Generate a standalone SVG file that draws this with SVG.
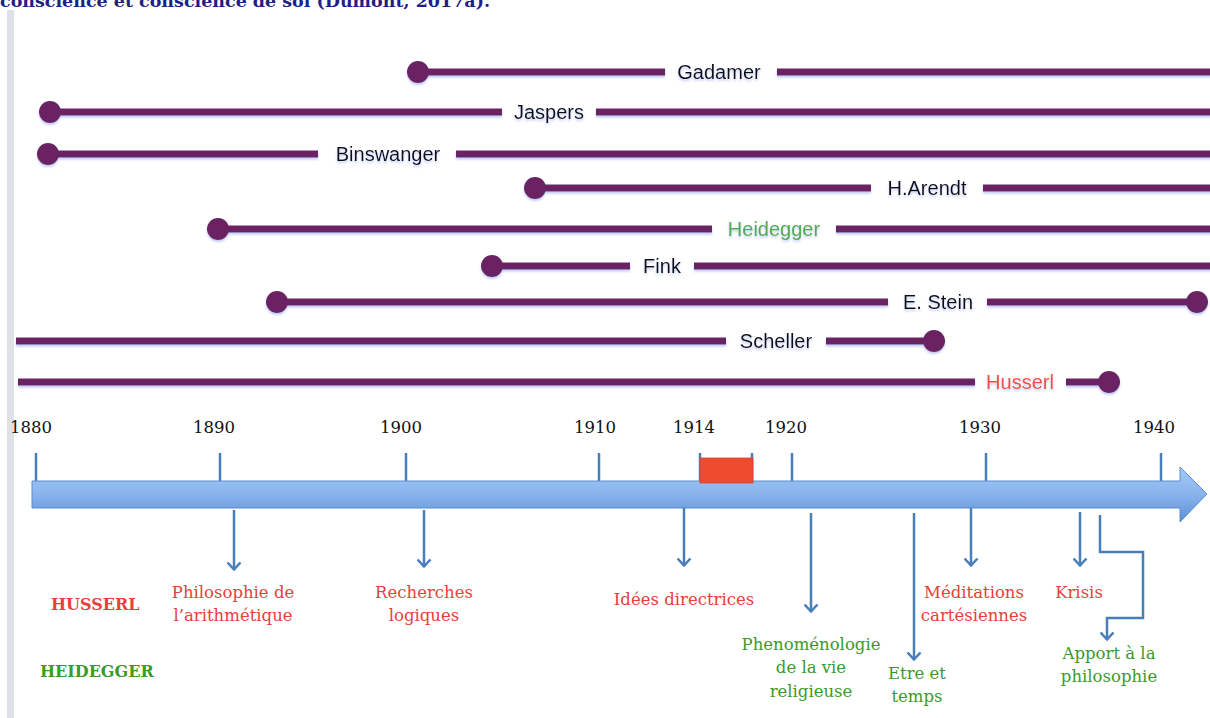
<svg xmlns="http://www.w3.org/2000/svg" width="1210" height="718" viewBox="0 0 1210 718">
<style>
.life{stroke:#6a2363;stroke-width:7;fill:none;}
.dot{fill:#6a2363;}
.name{font-family:"Liberation Sans",Arial,sans-serif;font-size:20px;fill:#111;text-anchor:middle;}
.year{font-family:"DejaVu Serif",serif;font-size:16.5px;fill:#111;text-anchor:middle;}
.tick{stroke:#4a7ebb;stroke-width:2.5;}
.conn{stroke:#4a7ebb;stroke-width:2.5;fill:none;marker-end:url(#vhead);}
.work{font-family:"DejaVu Serif",serif;font-size:16.5px;text-anchor:middle;}
.red{fill:#e8403a;}
.green{fill:#3a9a2a;}
.cat{font-family:"DejaVu Serif",serif;font-size:16px;font-weight:bold;}
</style>
<defs>
<linearGradient id="arrowGrad" x1="0" y1="0" x2="0" y2="1">
<stop offset="0" stop-color="#a6c9f5"/>
<stop offset="0.5" stop-color="#89b3ec"/>
<stop offset="1" stop-color="#5d90d6"/>
</linearGradient>
<filter id="glow" x="-5%" y="-50%" width="110%" height="200%">
<feGaussianBlur in="SourceAlpha" stdDeviation="1.2"/>
<feOffset dx="0" dy="2" result="b"/>
<feFlood flood-color="#8f9ef0" flood-opacity="0.55"/>
<feComposite in2="b" operator="in"/>
<feMerge><feMergeNode/><feMergeNode in="SourceGraphic"/></feMerge>
</filter>
<marker id="vhead" viewBox="-1 -1 10 15" refX="7.5" refY="6.5" markerWidth="10" markerHeight="15" markerUnits="userSpaceOnUse" orient="auto">
<path d="M0,0 L7,6.5 L0,13" fill="none" stroke="#4a7ebb" stroke-width="2.5"/>
</marker>
</defs>
<rect width="1210" height="718" fill="#ffffff"/>
<text x="0" y="7" font-family="DejaVu Serif,serif" font-size="17" font-weight="bold" fill="#1f1f8a" textLength="490" lengthAdjust="spacingAndGlyphs">conscience et conscience de soi (Dumont, 2017a).</text>
<rect x="7" y="10" width="7" height="708" fill="#dfe1e8"/>

<g id="lifelines" filter="url(#glow)">
<g id="gadamer">
<line class="life" x1="418" y1="72" x2="665" y2="72"/><line class="life" x1="777" y1="72" x2="1212" y2="72"/>
<circle class="dot" cx="418" cy="72" r="11"/>
<text class="name" x="719" y="79">Gadamer</text>
</g>
<g id="jaspers">
<line class="life" x1="50" y1="112" x2="502" y2="112"/><line class="life" x1="596" y1="112" x2="1212" y2="112"/>
<circle class="dot" cx="50" cy="112" r="11"/>
<text class="name" x="549" y="119">Jaspers</text>
</g>
<g id="binswanger">
<line class="life" x1="48" y1="154" x2="318" y2="154"/><line class="life" x1="456" y1="154" x2="1212" y2="154"/>
<circle class="dot" cx="48" cy="154" r="11"/>
<text class="name" x="388" y="161">Binswanger</text>
</g>
<g id="arendt">
<line class="life" x1="535" y1="188" x2="871" y2="188"/><line class="life" x1="983" y1="188" x2="1212" y2="188"/>
<circle class="dot" cx="535" cy="188" r="11"/>
<text class="name" x="927" y="195">H.Arendt</text>
</g>
<g id="heidegger">
<line class="life" x1="218" y1="229" x2="712" y2="229"/><line class="life" x1="836" y1="229" x2="1212" y2="229"/>
<circle class="dot" cx="218" cy="229" r="11"/>
<text class="name" x="774" y="236" style="fill:#52ae48">Heidegger</text>
</g>
<g id="fink">
<line class="life" x1="492" y1="266" x2="630" y2="266"/><line class="life" x1="694" y1="266" x2="1212" y2="266"/>
<circle class="dot" cx="492" cy="266" r="11"/>
<text class="name" x="662" y="273">Fink</text>
</g>
<g id="stein">
<line class="life" x1="277" y1="302" x2="888" y2="302"/><line class="life" x1="987" y1="302" x2="1197" y2="302"/>
<circle class="dot" cx="277" cy="302" r="11"/><circle class="dot" cx="1197" cy="302" r="11"/>
<text class="name" x="938" y="309">E. Stein</text>
</g>
<g id="scheller">
<line class="life" x1="16" y1="341" x2="726" y2="341"/><line class="life" x1="826" y1="341" x2="934" y2="341"/>
<circle class="dot" cx="934" cy="341" r="11"/>
<text class="name" x="776" y="348">Scheller</text>
</g>
<g id="husserl">
<line class="life" x1="18" y1="382" x2="975" y2="382"/><line class="life" x1="1066" y1="382" x2="1109" y2="382"/>
<circle class="dot" cx="1109" cy="382" r="11"/>
<text class="name" x="1020" y="389" style="fill:#f0533c">Husserl</text>
</g>
</g>

<g id="years">
<text class="year" x="31" y="433">1880</text>
<text class="year" x="214" y="433">1890</text>
<text class="year" x="401" y="433">1900</text>
<text class="year" x="595" y="433">1910</text>
<text class="year" x="694" y="433">1914</text>
<text class="year" x="786" y="433">1920</text>
<text class="year" x="980" y="433">1930</text>
<text class="year" x="1154" y="433">1940</text>
</g>

<g id="ticks">
<line class="tick" x1="36" y1="453" x2="36" y2="482"/>
<line class="tick" x1="220" y1="453" x2="220" y2="482"/>
<line class="tick" x1="406" y1="453" x2="406" y2="482"/>
<line class="tick" x1="599" y1="453" x2="599" y2="482"/>
<line class="tick" x1="700" y1="453" x2="700" y2="482"/>
<line class="tick" x1="752" y1="453" x2="752" y2="482"/>
<line class="tick" x1="792" y1="453" x2="792" y2="482"/>
<line class="tick" x1="986" y1="453" x2="986" y2="482"/>
<line class="tick" x1="1161" y1="453" x2="1161" y2="482"/>
</g>

<g id="timeline">
<path d="M32,481 L1180,481 L1180,467 L1207,494 L1180,522 L1180,508 L32,508 Z" fill="url(#arrowGrad)" stroke="#5b8dd2" stroke-width="1"/>
</g>
<g id="ww1">
<rect x="700" y="458" width="53" height="25" fill="#ee4a2e" stroke="#d9452c" stroke-width="0.8"/>
</g>

<g id="connectors">
<line class="conn" x1="234" y1="510" x2="234" y2="570"/>
<line class="conn" x1="424" y1="510" x2="424" y2="567"/>
<line class="conn" x1="684" y1="508" x2="684" y2="566"/>
<line class="conn" x1="811" y1="513" x2="811" y2="612"/>
<line class="conn" x1="914" y1="513" x2="914" y2="660"/>
<line class="conn" x1="971" y1="508" x2="971" y2="566"/>
<line class="conn" x1="1080" y1="512" x2="1080" y2="566"/>
<polyline class="conn" points="1100,515 1100,552 1143,552 1143,618 1107,618 1107,640"/>
</g>

<g id="labels">
<text class="cat red" x="51" y="610">HUSSERL</text>
<text class="cat green" x="40" y="677">HEIDEGGER</text>
</g>
<g id="work-philo-arith"><text class="work red" x="233" y="598">Philosophie de</text><text class="work red" x="233" y="621">l’arithmétique</text></g>
<g id="work-recherches"><text class="work red" x="424" y="598">Recherches</text><text class="work red" x="424" y="621">logiques</text></g>
<g id="work-idees"><text class="work red" x="684" y="605">Idées directrices</text></g>
<g id="work-phenom"><text class="work green" x="811" y="650">Phenoménologie</text><text class="work green" x="811" y="673">de la vie</text><text class="work green" x="811" y="697">religieuse</text></g>
<g id="work-etre"><text class="work green" x="917" y="679">Etre et</text><text class="work green" x="917" y="702">temps</text></g>
<g id="work-meditations"><text class="work red" x="974" y="598">Méditations</text><text class="work red" x="974" y="621">cartésiennes</text></g>
<g id="work-krisis"><text class="work red" x="1079" y="598">Krisis</text></g>
<g id="work-apport"><text class="work green" x="1109" y="659">Apport à la</text><text class="work green" x="1109" y="682">philosophie</text></g>
</svg>
